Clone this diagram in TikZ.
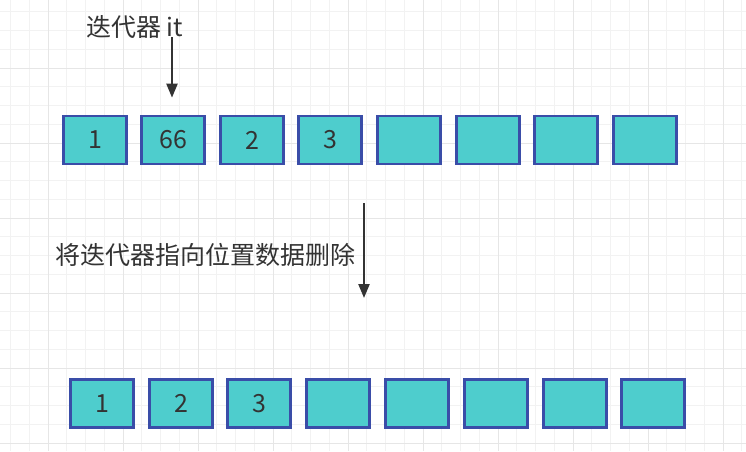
\documentclass[tikz,border=0pt]{standalone}
\usepackage{fontspec}
\setmainfont{Noto Sans CJK SC}
\usetikzlibrary{arrows.meta}
\usepackage{xcolor}
\definecolor{zelle}{HTML}{4ECDCD}
\definecolor{rand}{HTML}{3A4DA8}
\definecolor{schrift}{HTML}{333333}
\definecolor{rasterfein}{HTML}{F2F2F2}
\definecolor{rastergrob}{HTML}{E6E6E6}

\begin{document}
\begin{tikzpicture}[
      x=1pt, y=-1pt,
      zelle/.style={draw=rand, fill=zelle, line width=2.7pt, inner sep=0pt,
                    minimum width=63pt, minimum height=48pt, text=schrift,
                    font=\fontsize{25}{30}\selectfont},
      notiz/.style={text=schrift, inner sep=0pt, font=\fontsize{25}{30}\selectfont},
      zeiger/.style={-{Triangle[length=14pt,width=11pt]}, draw=schrift, line width=2.3pt}
    ]
    \useasboundingbox (0,0) rectangle (746,451);
    \fill[white] (0,0) rectangle (746,451);
    % raster
    \foreach \i in {0,...,39} {
      \draw[rasterfein, line width=1pt] (10.5+\i*18.75,0) -- (10.5+\i*18.75,451);
    }
    \foreach \i in {0,...,23} {
      \draw[rasterfein, line width=1pt] (0,11.75+\i*18.75) -- (746,11.75+\i*18.75);
    }
    \foreach \i in {0,...,9} {
      \draw[rastergrob, line width=1pt] (48+\i*75,0) -- (48+\i*75,451);
    }
    \foreach \i in {0,...,5} {
      \draw[rastergrob, line width=1pt] (0,68+\i*75) -- (746,68+\i*75);
    }

    % vorher
    \node[zelle] (a1) at (95,140)  {1};
    \node[zelle] (a2) at (173,140) {66};
    \node[zelle] (a3) at (252,140) {2};
    \node[zelle] (a4) at (330,140) {3};
    \node[zelle] (a5) at (409,140) {};
    \node[zelle] (a6) at (488,140) {};
    \node[zelle] (a7) at (566,140) {};
    \node[zelle] (a8) at (645,140) {};

    % nachher
    \node[zelle] (b1) at (102,403.5) {1};
    \node[zelle] (b2) at (181,403.5) {2};
    \node[zelle] (b3) at (259,403.5) {3};
    \node[zelle] (b4) at (338,403.5) {};
    \node[zelle] (b5) at (417,403.5) {};
    \node[zelle] (b6) at (496,403.5) {};
    \node[zelle] (b7) at (575,403.5) {};
    \node[zelle] (b8) at (653,403.5) {};

    \node[notiz] (it)  at (134.5,27) {迭代器 it};
    \node[notiz] (del) at (205,255)  {将迭代器指向位置数据删除};

    \coordinate (itstart) at (172,37);
    \coordinate (delstart) at (364,203);
    \coordinate (delend) at (364,298);

    \draw[zeiger] (itstart) -- (itstart |- a2.north) [shorten >=17pt];
    \draw[zeiger] (delstart) -- (delend);
  \end{tikzpicture}
\end{document}
